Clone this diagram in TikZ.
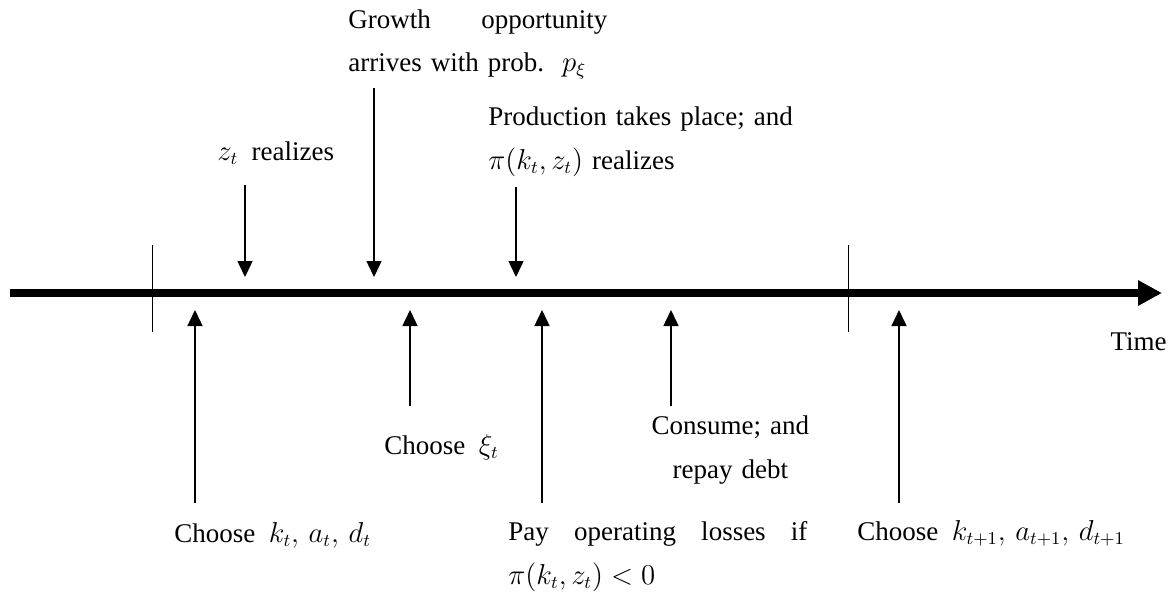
\documentclass[tikz,border=0pt]{standalone}
\usepackage{fontspec}
\setmainfont{Liberation Serif}
\usetikzlibrary{arrows.meta}

\begin{document}
\begin{tikzpicture}[x=0.5pt,y=-0.5pt]
\useasboundingbox (0,0) rectangle (1176,596);

% events above and below the time line
\begin{scope}[every node/.style={inner sep=0pt,anchor=base west,
              font=\fontsize{13.5}{22}\selectfont}]
    \node (A) at (348,28) [text width=129.5pt,align=left]
        {Growth\hfill opportunity\\[-0.5pt]arrives with prob.\ \ $p_\xi$};
    \node (B) at (217,160) {$z_t$\ \ realizes};
    \node (C) at (488,125) [text width=170pt,align=left]
        {Production takes place; and\\$\pi(k_t,z_t)$ realizes};
    \node (D) at (174,542) {Choose\ \ $k_t,\,a_t,\,d_t$};
    \node (E) at (384,454) {Choose\ \ $\xi_t$};
    \node (F) at (650,434) [text width=80pt,align=center] {Consume; and\\repay debt};
    \node (G) at (508,540) [text width=149.5pt,align=left]
        {Pay\hfill operating\hfill losses\hfill if\\$\pi(k_t,z_t)<0$};
    \node (H) at (857,540) {Choose\ \ $k_{t+1},\,a_{t+1},\,d_{t+1}$};
    \node (T) at (1167,350) [anchor=base east] {Time};
\end{scope}

% time line and period marks
\coordinate (L0) at (10,293);
\coordinate (L1) at (1162,293);
\draw [line width=4pt,-{Triangle[length=12pt,width=12pt]}] (L0) -- (L1);
\coordinate (P0) at (152,245);
\coordinate (Q0) at (152,332);
\coordinate (P1) at (848,245);
\coordinate (Q1) at (848,332);
\draw [thin] (P0) -- (Q0);
\draw [thin] (P1) -- (Q1);

% arrows to the line
\coordinate (a1) at (245,185);  \coordinate (b1) at (245,277);
\coordinate (a2) at (374,88);   \coordinate (b2) at (374,277);
\coordinate (a3) at (516,187);  \coordinate (b3) at (516,277);
\coordinate (a4) at (195,503);  \coordinate (b4) at (195,310);
\coordinate (a5) at (410,406);  \coordinate (b5) at (410,310);
\coordinate (a6) at (542,503);  \coordinate (b6) at (542,310);
\coordinate (a7) at (671,406);  \coordinate (b7) at (671,310);
\coordinate (a8) at (899,503);  \coordinate (b8) at (899,310);
\begin{scope}[>={Triangle[length=8pt,width=7.5pt]},
              every edge/.style={draw,line width=0.75pt}]
    \path [->] (a1) edge (b1);
    \path [->] (a2) edge (b2);
    \path [->] (a3) edge (b3);
    \path [->] (a4) edge (b4);
    \path [->] (a5) edge (b5);
    \path [->] (a6) edge (b6);
    \path [->] (a7) edge (b7);
    \path [->] (a8) edge (b8);
\end{scope}
\end{tikzpicture}
\end{document}
